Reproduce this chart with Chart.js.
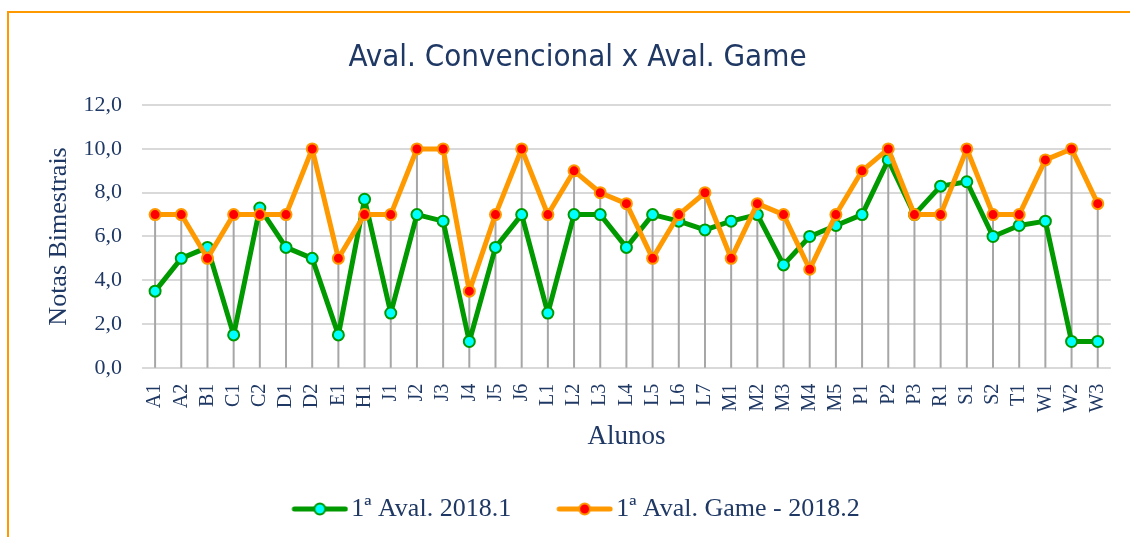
<!DOCTYPE html>
<html>
<head>
<meta charset="utf-8">
<script src="https://cdn.jsdelivr.net/npm/chart.js@4/dist/chart.umd.min.js"></script>
<style>
  html, body { margin: 0; padding: 0; background: #fff; overflow: hidden; }
  #wrap { position: relative; width: 1130px; height: 537px; }
  #frame { position: absolute; left: 7px; top: 11px; width: 1200px; height: 600px; border: 2px solid #ff9900; }
  canvas { position: absolute; left: 0; top: 0; }
</style>
</head>
<body>
<div id="wrap">
  <div id="frame"></div>
  <canvas id="chart" width="1130" height="537"></canvas>
</div>
<script>
const alunos = ['A1', 'A2', 'B1', 'C1', 'C2', 'D1', 'D2', 'E1', 'H1', 'J1', 'J2', 'J3', 'J4', 'J5', 'J6',
  'L1', 'L2', 'L3', 'L4', 'L5', 'L6', 'L7', 'M1', 'M2', 'M3', 'M4', 'M5', 'P1', 'P2', 'P3',
  'R1', 'S1', 'S2', 'T1', 'W1', 'W2', 'W3'];

// 1a Aval. 2018.1
const aval2018_1 = [3.5, 5.0, 5.5, 1.5, 7.3, 5.5, 5.0, 1.5, 7.7, 2.5, 7.0, 6.7, 1.2, 5.5, 7.0,
  2.5, 7.0, 7.0, 5.5, 7.0, 6.7, 6.3, 6.7, 7.0, 4.7, 6.0, 6.5, 7.0, 9.5, 7.0,
  8.3, 8.5, 6.0, 6.5, 6.7, 1.2, 1.2];

// 1a Aval. Game - 2018.2
const game2018_2 = [7.0, 7.0, 5.0, 7.0, 7.0, 7.0, 10.0, 5.0, 7.0, 7.0, 10.0, 10.0, 3.5, 7.0, 10.0,
  7.0, 9.0, 8.0, 7.5, 5.0, 7.0, 8.0, 5.0, 7.5, 7.0, 4.5, 7.0, 9.0, 10.0, 7.0,
  7.0, 10.0, 7.0, 7.0, 9.5, 10.0, 7.5];

const yTicks = [0, 2, 4, 6, 8, 10, 12];

const navy = '#1f3864';
const serif = "'Liberation Serif', 'Times New Roman', serif";

// legend marker: line with a circle, drawn on the right part of a wider canvas
function legendIcon(lineColor, fill, border) {
  const c = document.createElement('canvas');
  c.width = 102; c.height = 16;
  const g = c.getContext('2d');
  g.strokeStyle = lineColor;
  g.lineWidth = 5;
  g.lineCap = 'round';
  g.beginPath();
  g.moveTo(48, 8); g.lineTo(99, 8);
  g.stroke();
  g.beginPath();
  g.arc(73.5, 8, 5.5, 0, Math.PI * 2);
  g.fillStyle = fill;
  g.fill();
  g.lineWidth = 2;
  g.strokeStyle = border;
  g.stroke();
  return c;
}

// gray drop lines from the highest point down to the axis
const dropLines = {
  id: 'dropLines',
  beforeDatasetsDraw(chart) {
    const { ctx, chartArea, scales } = chart;
    ctx.save();
    ctx.strokeStyle = '#a6a6a6';
    ctx.lineWidth = 2;
    alunos.forEach((a, i) => {
      const top = Math.max(aval2018_1[i], game2018_2[i]);
      const x = scales.x.getPixelForValue(i);
      ctx.beginPath();
      ctx.moveTo(x, scales.y.getPixelForValue(top));
      ctx.lineTo(x, chartArea.bottom);
      ctx.stroke();
    });
    ctx.restore();
  }
};

new Chart(document.getElementById('chart'), {
  type: 'line',
  data: {
    labels: alunos,
    datasets: [{
      label: '1ª Aval. 2018.1',
      data: aval2018_1,
      borderColor: '#009900',
      borderWidth: 5,
      borderJoinStyle: 'round',
      pointRadius: 5.5,
      pointBorderWidth: 2,
      pointBackgroundColor: '#00ffff',
      pointBorderColor: '#009900',
      tension: 0,
      order: 2
    }, {
      label: '1ª Aval. Game - 2018.2',
      data: game2018_2,
      borderColor: '#ff9900',
      borderWidth: 5,
      borderJoinStyle: 'round',
      pointRadius: 5.5,
      pointBorderWidth: 2,
      pointBackgroundColor: '#ff0000',
      pointBorderColor: '#ff9900',
      tension: 0,
      order: 1
    }]
  },
  options: {
    responsive: false,
    animation: false,
    layout: { padding: { left: 44, right: 19, top: 39, bottom: 5 } },
    plugins: {
      title: {
        display: true,
        text: 'Aval. Convencional x Aval. Game',
        color: navy,
        font: { family: "'DejaVu Sans Condensed', 'DejaVu Sans', sans-serif", size: 31, weight: 'normal' },
        padding: { top: 0, bottom: 29 }
      },
      legend: {
        position: 'bottom',
        labels: {
          color: navy,
          font: { family: serif, size: 26 },
          usePointStyle: true,
          pointStyleWidth: 82,
          padding: 10,
          generateLabels(chart) {
            return [
              { text: '1ª Aval. 2018.1', pointStyle: legendIcon('#009900', '#00ffff', '#009900'), datasetIndex: 0, fontColor: navy, lineWidth: 0, strokeStyle: 'transparent', fillStyle: 'transparent' },
              { text: '1ª Aval. Game - 2018.2\u00a0\u00a0\u00a0\u00a0\u00a0\u00a0', pointStyle: legendIcon('#ff9900', '#ff0000', '#ff9900'), datasetIndex: 1, fontColor: navy, lineWidth: 0, strokeStyle: 'transparent', fillStyle: 'transparent' }
            ];
          }
        }
      },
      tooltip: { enabled: false }
    },
    scales: {
      x: {
        offset: true,
        grid: { display: false },
        border: { display: false },
        ticks: {
          color: navy,
          font: { family: serif, size: 20 },
          minRotation: 90,
          maxRotation: 90,
          autoSkip: false,
          padding: 8
        },
        title: {
          display: true,
          text: 'Alunos',
          color: navy,
          font: { family: serif, size: 27 },
          padding: { top: 0, bottom: 33 }
        }
      },
      y: {
        min: 0,
        max: 12,
        afterBuildTicks(scale) {
          scale.ticks = yTicks.map(v => ({ value: v }));
        },
        afterFit(scale) {
          scale.width = 98;
        },
        grid: { color: '#d9d9d9', lineWidth: 2, drawTicks: false },
        border: { display: false },
        ticks: {
          color: navy,
          font: { family: serif, size: 22 },
          padding: 20,
          callback: v => v.toFixed(1).replace('.', ',')
        },
        title: {
          display: true,
          text: 'Notas Bimestrais',
          color: navy,
          font: { family: serif, size: 26 },
          padding: { top: 0, bottom: 0 }
        }
      }
    }
  },
  plugins: [dropLines]
});
</script>
</body>
</html>
